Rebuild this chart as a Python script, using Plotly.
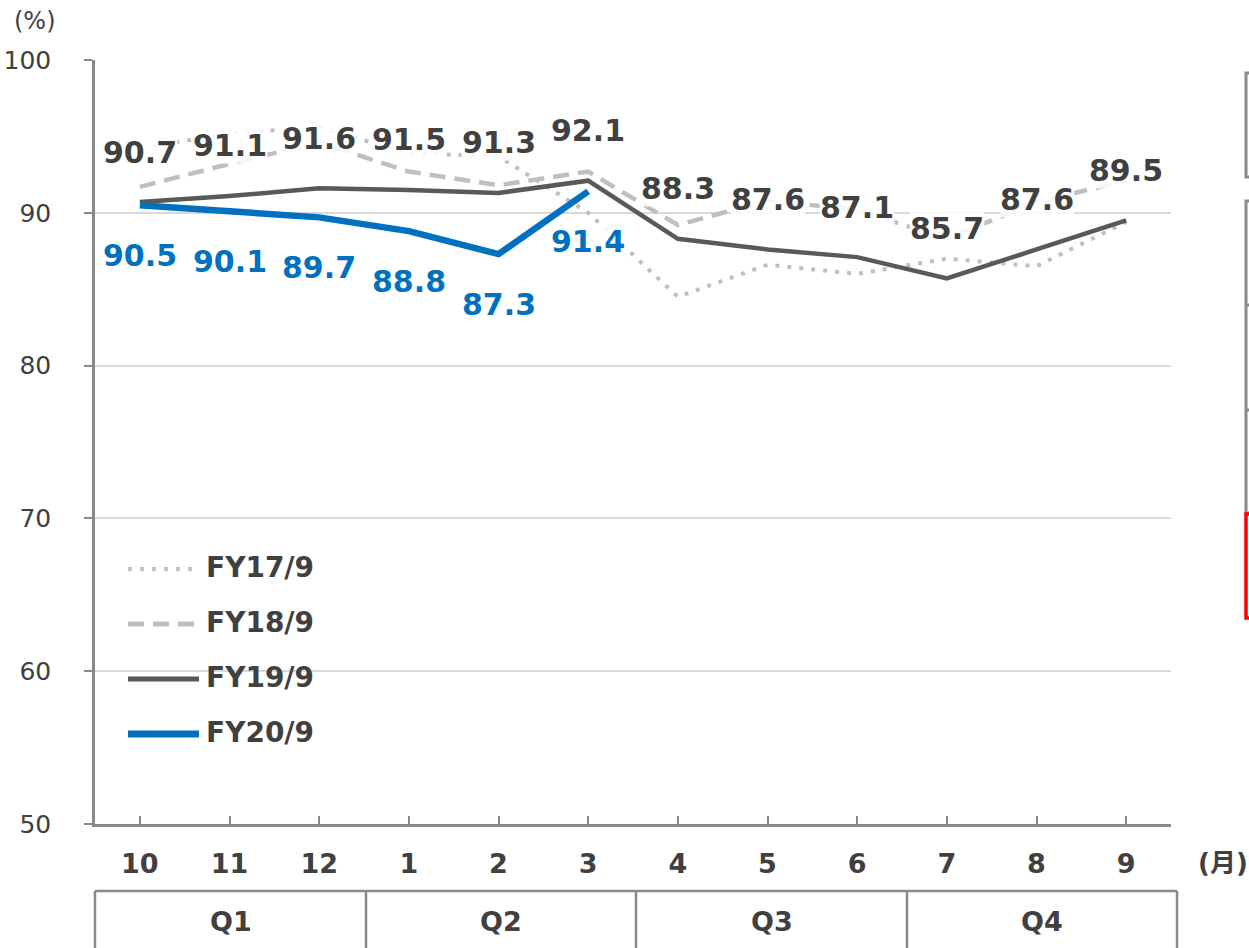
import plotly.graph_objects as go

# ---------------- data ----------------
months = ["10", "11", "12", "1", "2", "3", "4", "5", "6", "7", "8", "9"]
quarters = ["Q1", "Q2", "Q3", "Q4"]
series_names = ["FY17/9", "FY18/9", "FY19/9", "FY20/9"]
fy17 = [94.2, 95.2, 95.6, 93.9, 93.7, 90.0, 84.5, 86.6, 86.0, 87.0, 86.5, 89.4]
fy18 = [91.7, 93.2, 94.6, 92.7, 91.8, 92.7, 89.2, 90.8, 90.2, 88.3, 90.7, 92.1]
fy19 = [90.7, 91.1, 91.6, 91.5, 91.3, 92.1, 88.3, 87.6, 87.1, 85.7, 87.6, 89.5]
fy20 = [90.5, 90.1, 89.7, 88.8, 87.3, 91.4]
y_ticks = [50, 60, 70, 80, 90, 100]

# ---------------- styles ----------------
FONT = "DejaVu Sans, Verdana, Noto Sans CJK JP, sans-serif"
TXT = "#404040"
AX = "#898989"
GRID = "#D9D9D9"
C17 = "#BFBFBF"
C18 = "#BFBFBF"
C19 = "#595959"
C20 = "#0070C0"

W, H = 1249, 948
L, R, T, B = 95, 1171, 60, 824


def px(x):
    return (x - L) / (R - L)


def py(y):
    return (B - y) / (B - T)


xs = list(range(len(months)))

fig = go.Figure()
styles = [
    (fy17, C17, 4, "4px,8px"),
    (fy18, C18, 4.5, "16px,9px"),
    (fy19, C19, 4.5, "solid"),
    (fy20, C20, 6.5, "solid"),
]
for name, (vals, col, w, dash) in zip(series_names, styles):
    fig.add_trace(go.Scatter(
        x=xs[:len(vals)], y=vals, mode="lines", name=name,
        line=dict(color=col, width=w, dash=dash),
        showlegend=False, hoverinfo="skip",
    ))

annotations = []
# data labels
for i, v in enumerate(fy19):
    annotations.append(dict(
        x=i, y=v, xref="x", yref="y", text=f"{v:.1f}", showarrow=False,
        xanchor="center", yanchor="middle",
        yshift=50, font=dict(family=FONT, size=30, color=TXT, weight="bold"),
        bgcolor="rgba(255,255,255,0.85)", borderpad=0,
    ))
for i, v in enumerate(fy20):
    annotations.append(dict(
        x=i, y=v, xref="x", yref="y", text=f"{v:.1f}", showarrow=False,
        xanchor="center", yanchor="middle",
        yshift=-50, font=dict(family=FONT, size=30, color=C20, weight="bold"),
        bgcolor="rgba(255,255,255,0.85)", borderpad=0,
    ))

# unit labels
annotations.append(dict(x=px(35), y=py(21), xref="paper", yref="paper", text="(%)",
                        xanchor="center", yanchor="middle",
                        showarrow=False, font=dict(family=FONT, size=24, color=TXT)))
annotations.append(dict(x=px(1223), y=py(863), xref="paper", yref="paper", text="(月)",
                        xanchor="center", yanchor="middle",
                        showarrow=False, font=dict(family=FONT, size=26, color=TXT, weight="bold")))

shapes = []
# custom legend
leg_y = [569, 624, 679, 734]
leg_styles = [(C17, 4, "4px,8px"), (C18, 5, "16px,9px"), (C19, 5, "solid"), (C20, 7, "solid")]
for name, yy, (col, w, dash) in zip(series_names, leg_y, leg_styles):
    shapes.append(dict(type="line", xref="paper", yref="paper",
                       x0=px(128), x1=px(199), y0=py(yy), y1=py(yy),
                       line=dict(color=col, width=w, dash=dash)))
    annotations.append(dict(x=px(204), y=py(yy - 2), xref="paper", yref="paper", text=name,
                            xanchor="left", yanchor="middle", showarrow=False,
                            font=dict(family=FONT, size=28, color=TXT, weight="bold")))

# quarter table below axis
q_edges = [95, 366, 636, 907, 1177]
q_top, q_bot = 891, 990
shapes.append(dict(type="line", xref="paper", yref="paper", x0=px(q_edges[0]), x1=px(q_edges[-1]),
                   y0=py(q_top), y1=py(q_top), line=dict(color=AX, width=2.5)))
for e in q_edges:
    shapes.append(dict(type="line", xref="paper", yref="paper", x0=px(e), x1=px(e),
                       y0=py(q_top), y1=py(q_bot), line=dict(color=AX, width=2.5)))
for q, a, b in zip(quarters, q_edges[:-1], q_edges[1:]):
    annotations.append(dict(x=px((a + b) / 2), y=py(921), xref="paper", yref="paper", text=q,
                            xanchor="center", yanchor="middle",
                            showarrow=False, font=dict(family=FONT, size=27, color=TXT, weight="bold")))

# partial boxes cut off at the right edge
shapes.append(dict(type="rect", xref="paper", yref="paper", x0=px(1246), x1=px(1290),
                   y0=py(73), y1=py(177), line=dict(color=AX, width=3)))
shapes.append(dict(type="rect", xref="paper", yref="paper", x0=px(1246), x1=px(1290),
                   y0=py(201), y1=py(513), line=dict(color=AX, width=3)))
for yy in (305, 410):
    shapes.append(dict(type="line", xref="paper", yref="paper", x0=px(1246), x1=px(1290),
                       y0=py(yy), y1=py(yy), line=dict(color=AX, width=3)))
shapes.append(dict(type="rect", xref="paper", yref="paper", x0=px(1246), x1=px(1290),
                   y0=py(514), y1=py(618), line=dict(color="#FF0000", width=3.5)))

fig.update_layout(
    width=W, height=H,
    margin=dict(l=L, r=W - R, t=T, b=H - B, autoexpand=False),
    paper_bgcolor="white", plot_bgcolor="white",
    showlegend=False,
    annotations=annotations,
    shapes=shapes,
    xaxis=dict(
        range=[-0.5, 11.5], tickmode="array",
        tickvals=xs + [11.5], ticktext=months + [""],
        ticks="inside", ticklen=8, tickwidth=2, tickcolor=AX,
        showline=True, linecolor=AX, linewidth=2.5,
        showgrid=False, zeroline=False, automargin=False,
        tickfont=dict(family=FONT, size=27, color=TXT, weight="bold"),
        ticklabelstandoff=14,
    ),
    yaxis=dict(
        range=[50, 100], tickmode="array", tickvals=y_ticks,
        ticks="outside", ticklen=8, tickwidth=2, tickcolor=AX,
        showline=True, linecolor=AX, linewidth=2.5,
        showgrid=True, gridcolor=GRID, gridwidth=2, zeroline=False, automargin=False,
        tickfont=dict(family=FONT, size=25, color=TXT),
        ticklabelstandoff=28,
    ),
)

fig.write_html("out.html", config={"displayModeBar": False},
               post_script="document.body.style.margin='0';")
